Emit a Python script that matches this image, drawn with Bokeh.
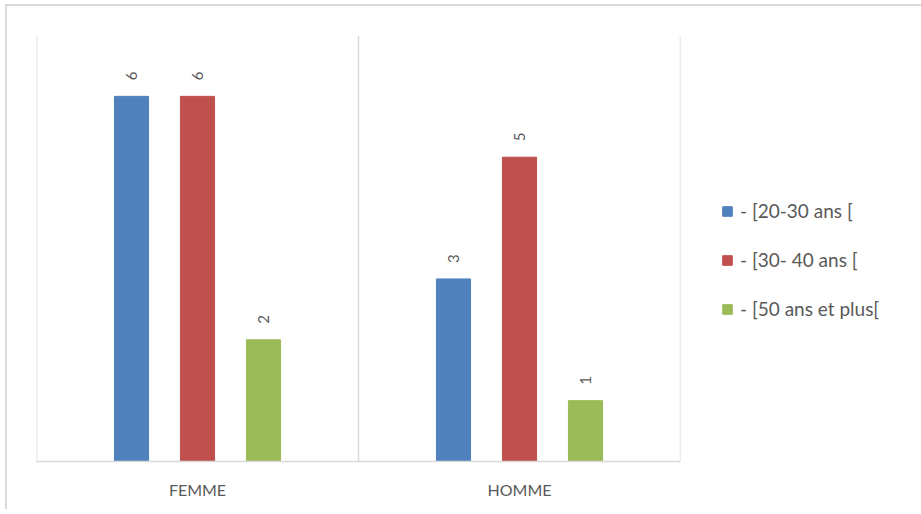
from math import pi
from bokeh.plotting import figure
from bokeh.models import FactorRange, Range1d, Legend, LegendItem, Span, ColumnDataSource
from bokeh.transform import dodge
from bokeh.core.properties import value
from bokeh.embed import file_html
from bokeh.resources import INLINE

categories = ["FEMME", "HOMME"]
series_names = ["- [20-30 ans [", "- [30- 40 ans [", "- [50 ans et plus["]
age_20_30 = [6, 3]
age_30_40 = [6, 5]
age_50_plus = [2, 1]
colors = ["#4F81BD", "#C0504D", "#9BBB59"]

FONT = "Lato"
GRAY_TEXT = "#595959"
GRID = "#d9d9d9"

src = ColumnDataSource(data=dict(
    cat=categories,
    s0=age_20_30, s1=age_30_40, s2=age_50_plus,
    t0=[str(v) for v in age_20_30],
    t1=[str(v) for v in age_30_40],
    t2=[str(v) for v in age_50_plus],
))

p = figure(x_range=FactorRange(*categories), y_range=Range1d(0, 7),
           frame_width=644, frame_height=426, output_backend="svg", toolbar_location=None,
           min_border_left=29, min_border_top=29, min_border_bottom=48,
           min_border_right=10)
p.styles = {"border-top": "2px solid #d9d9d9", "border-left": "2px solid #d9d9d9",
            "margin-top": "4px", "margin-left": "5px"}

p.outline_line_color = None
p.grid.visible = False
p.yaxis.visible = False
p.xaxis.axis_line_color = GRID
p.xaxis.axis_line_width = 1.5
p.xaxis.major_tick_line_color = None
p.xaxis.minor_tick_line_color = None
p.xaxis.major_label_text_color = GRAY_TEXT
p.xaxis.major_label_text_font = FONT
p.xaxis.major_label_text_font_size = "16px"
p.xaxis.major_label_standoff = 12

for loc in [0, 1, 2]:
    p.add_layout(Span(location=loc, dimension="height", line_color=GRID, line_width=1.5))

offsets = [-0.205, 0.0, 0.205]
items = []
for i, (off, col, name) in enumerate(zip(offsets, colors, series_names)):
    r = p.vbar(x=dodge("cat", off, range=p.x_range), top=f"s{i}", width=0.106,
               source=src, fill_color=col, line_color=col)
    p.text(x=dodge("cat", off, range=p.x_range), y=f"s{i}", text=f"t{i}", source=src,
           angle=pi / 2, text_align="left", text_baseline="middle", y_offset=-16,
           text_font=value(FONT), text_font_size="15px", text_color=GRAY_TEXT)
    items.append(LegendItem(label=name, renderers=[r]))

legend = Legend(items=items, location=(41, 141))
legend.border_line_color = None
legend.background_fill_alpha = 0
legend.glyph_width = 12
legend.glyph_height = 12
legend.label_height = 20
legend.spacing = 26
legend.padding = 0
legend.margin = 0
legend.label_standoff = 7
legend.label_text_font = FONT
legend.label_text_font_size = "19px"
legend.label_text_color = GRAY_TEXT
p.add_layout(legend, "right")

open("out.html", "w").write(file_html(p, INLINE))
